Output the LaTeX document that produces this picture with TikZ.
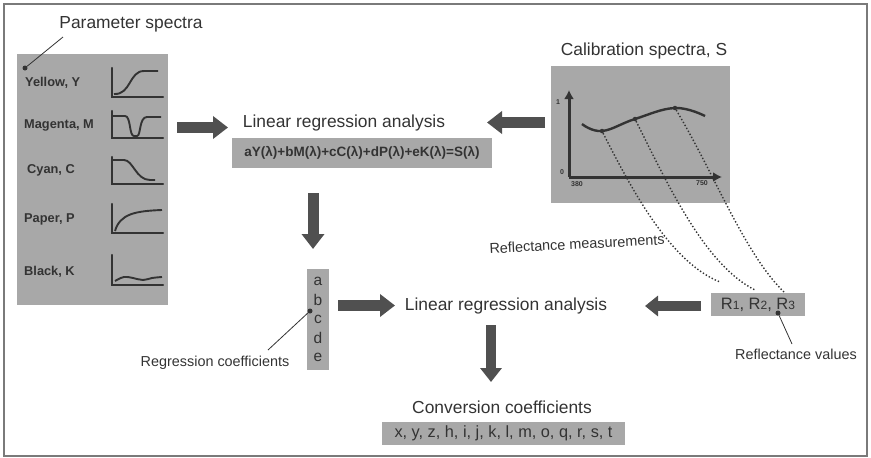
\documentclass[tikz,border=0pt]{standalone}
\usepackage{fontspec}
\setmainfont{Liberation Sans}
\usetikzlibrary{arrows.meta}

\definecolor{ink}{HTML}{333333}
\definecolor{panelgray}{HTML}{A8A8A8}
\definecolor{arrowgray}{HTML}{505050}
\definecolor{framegray}{HTML}{7A7A7A}

% small lowered digit used in R1, R2, R3
\newcommand\rdigit[1]{\raisebox{-0.5pt}{\fontsize{12}{12}\selectfont #1}}

\tikzset{
  big/.style={font=\fontsize{17.4}{20}\selectfont, text=ink, inner sep=0pt},
  small/.style={font=\fontsize{14.4}{17}\selectfont, text=ink, inner sep=0pt},
  tag/.style={font=\bfseries\fontsize{12.8}{15}\selectfont, text=ink, inner sep=0pt, anchor=west},
  tick/.style={font=\bfseries\fontsize{7}{8}\selectfont, text=ink, inner sep=0pt},
  graybox/.style={fill=panelgray, draw=none, inner sep=0pt, text=ink},
  blockarrow/.style={draw=arrowgray, line width=11pt, -{Triangle[length=15pt,width=22pt]}},
  axis/.style={draw=ink, line width=2.2pt, line cap=round},
  spectrum/.style={draw=ink, line width=1.9pt},
  meas/.style={draw=ink, line width=1.4pt, dash pattern=on 1.4pt off 2pt},
  leader/.style={draw=ink, line width=0.8pt},
  pin/.style={fill=ink, circle, inner sep=0pt, minimum size=5pt},
}

\begin{document}
\begin{tikzpicture}[x=1pt,y=-1pt]
\useasboundingbox (0,0) rectangle (871,458);
\draw[framegray, line width=1.2pt] (4,4) rectangle (867,456);

% ---------- parameter spectra panel ----------
\node[big] (ptitle) at (131,24) {Parameter spectra};
\node[graybox, minimum width=151pt, minimum height=251pt, anchor=north west] (panel) at (17,54) {};
\node[pin] (ppin) at (25,68) {};
\coordinate (pt1) at (63,37);
\draw[leader] (pt1) -- (ppin);

\node[tag] (yel) at (25,83) {Yellow, Y};
\node[tag] (mag) at (24,125) {Magenta, M};
\node[tag] (cya) at (27,170) {Cyan, C};
\node[tag] (pap) at (24,219) {Paper, P};
\node[tag] (blk) at (24,272) {Black, K};

% small spectra
\draw[axis] (112,68) -- (112,97) -- (163,97);
\draw[spectrum] (114,94) .. controls (131,95) and (129,71) .. (144,71) -- (158,71);

\draw[axis] (112,111) -- (112,138) -- (163,138);
\draw[spectrum] (113,116) -- (125,116) .. controls (131,116) and (129,136) .. (134,136)
  -- (137,136) .. controls (141,136) and (139,117) .. (147,117) -- (161,117);

\draw[axis] (112,157) -- (112,184) -- (163,184);
\draw[spectrum] (113,160) -- (124,160) .. controls (133,160) and (136,180) .. (150,180) -- (155,180);

\draw[axis] (112,204) -- (112,233) -- (163,233);
\draw[spectrum] (115,231) .. controls (120,214) and (135,211) .. (162,210);

\draw[axis] (112,255) -- (112,285) -- (163,285);
\draw[spectrum] plot[smooth, tension=0.7] coordinates
  {(115,281) (124,277) (133,278) (143,280) (152,278) (162,277)};

% ---------- first regression ----------
\node[big] (lra1) at (344,123) {Linear regression analysis};
\node[graybox, minimum width=260pt, minimum height=30pt,
      font=\bfseries\fontsize{13.5}{16}\selectfont] (formula) at (362,153)
      {aY(λ)+bM(λ)+cC(λ)+dP(λ)+eK(λ)=S(λ)};

% ---------- calibration spectra ----------
\node[big] (ctitle) at (644,51) {Calibration spectra, S};
\node[graybox, minimum width=179pt, minimum height=137pt, anchor=north west] (calbox) at (551,66) {};
\coordinate (origin) at (569,177);
\coordinate (ytop) at (569,90);
\coordinate (xend) at (722,177);
\draw[ink, line width=3pt, -{Latex[length=9pt,width=10pt]}] (origin) -- (ytop);
\draw[ink, line width=3pt, -{Latex[length=9pt,width=10pt]}] (origin) -- (xend);
\node[tick] (t1) at (558,102) {1};
\node[tick] (t0) at (562,172) {0};
\node[tick] (t380) at (577,184) {380};
\node[tick] (t750) at (702,183) {750};
\draw[spectrum, line width=2.4pt] plot[smooth, tension=0.7] coordinates
  {(582,124) (602,131) (635,119) (675,108) (705,116)};
\node[pin, minimum size=4.5pt] (s1) at (602,131) {};
\node[pin, minimum size=4.5pt] (s2) at (635,119) {};
\node[pin, minimum size=4.5pt] (s3) at (675,108) {};

% ---------- reflectance values ----------
\node[graybox, minimum width=94pt, minimum height=23pt,
      font=\fontsize{16.5}{19}\selectfont] (rbox) at (758,304.5)
      {R\rdigit{1}, R\rdigit{2}, R\rdigit{3}};
\coordinate (e1) at (720,282);
\coordinate (e2) at (755,290);
\coordinate (e3) at (785,293);
\draw[meas] (s1) .. controls (632,190) and (670,262) .. (e1);
\draw[meas] (s2) .. controls (668,185) and (705,265) .. (e2);
\draw[meas] (s3) .. controls (715,175) and (745,255) .. (e3);
\node[small, rotate=3] (measlbl) at (577,244) {Reflectance measurements};

\node[pin] (rpin) at (778,313) {};
\node[small] (rval) at (796,354) {Reflectance values};
\coordinate (rv1) at (792,344);
\draw[leader] (rpin) -- (rv1);

% ---------- regression coefficients ----------
\node[graybox, minimum width=22pt, minimum height=101pt] (abc) at (318,319.5) {};
\foreach \ch/\yy in {a/281, b/300, c/319, d/338, e/357}
  \node[font=\fontsize{15.5}{18}\selectfont, text=ink, inner sep=0pt] (coef\ch) at (318,\yy) {\ch};
\node[pin] (cpin) at (310,311) {};
\node[small] (clbl) at (215,363) {Regression coefficients};
\coordinate (cl1) at (268,350);
\draw[leader] (cpin) -- (cl1);

% ---------- second regression ----------
\node[big] (lra2) at (506,306) {Linear regression analysis};
\node[big] (ctitle2) at (502,407) {Conversion coefficients};
\node[graybox, minimum width=243pt, minimum height=23pt,
      font=\fontsize{16.3}{19}\selectfont] (conv) at (503.5,433.5)
      {x, y, z, h, i, j, k, l, m, o, q, r, s, t};

% ---------- block arrows ----------
\coordinate (a1s) at (177,127.5);  \coordinate (a1e) at (228,127.5);
\coordinate (a2s) at (545,122.5);  \coordinate (a2e) at (487,122.5);
\coordinate (a3s) at (313,193);    \coordinate (a3e) at (313,249);
\coordinate (a4s) at (338,305.5);  \coordinate (a4e) at (395,305.5);
\coordinate (a5s) at (701,306);    \coordinate (a5e) at (645,306);
\coordinate (a6s) at (491,325);    \coordinate (a6e) at (491,382);
\draw[blockarrow] (a1s) -- (a1e);
\draw[blockarrow] (a2s) -- (a2e);
\draw[blockarrow] (a3s) -- (a3e);
\draw[blockarrow] (a4s) -- (a4e);
\draw[blockarrow, line width=10pt, -{Triangle[length=13pt,width=20pt]}] (a5s) -- (a5e);
\draw[blockarrow, line width=10pt, -{Triangle[length=14pt,width=21pt]}] (a6s) -- (a6e);
\end{tikzpicture}
\end{document}
